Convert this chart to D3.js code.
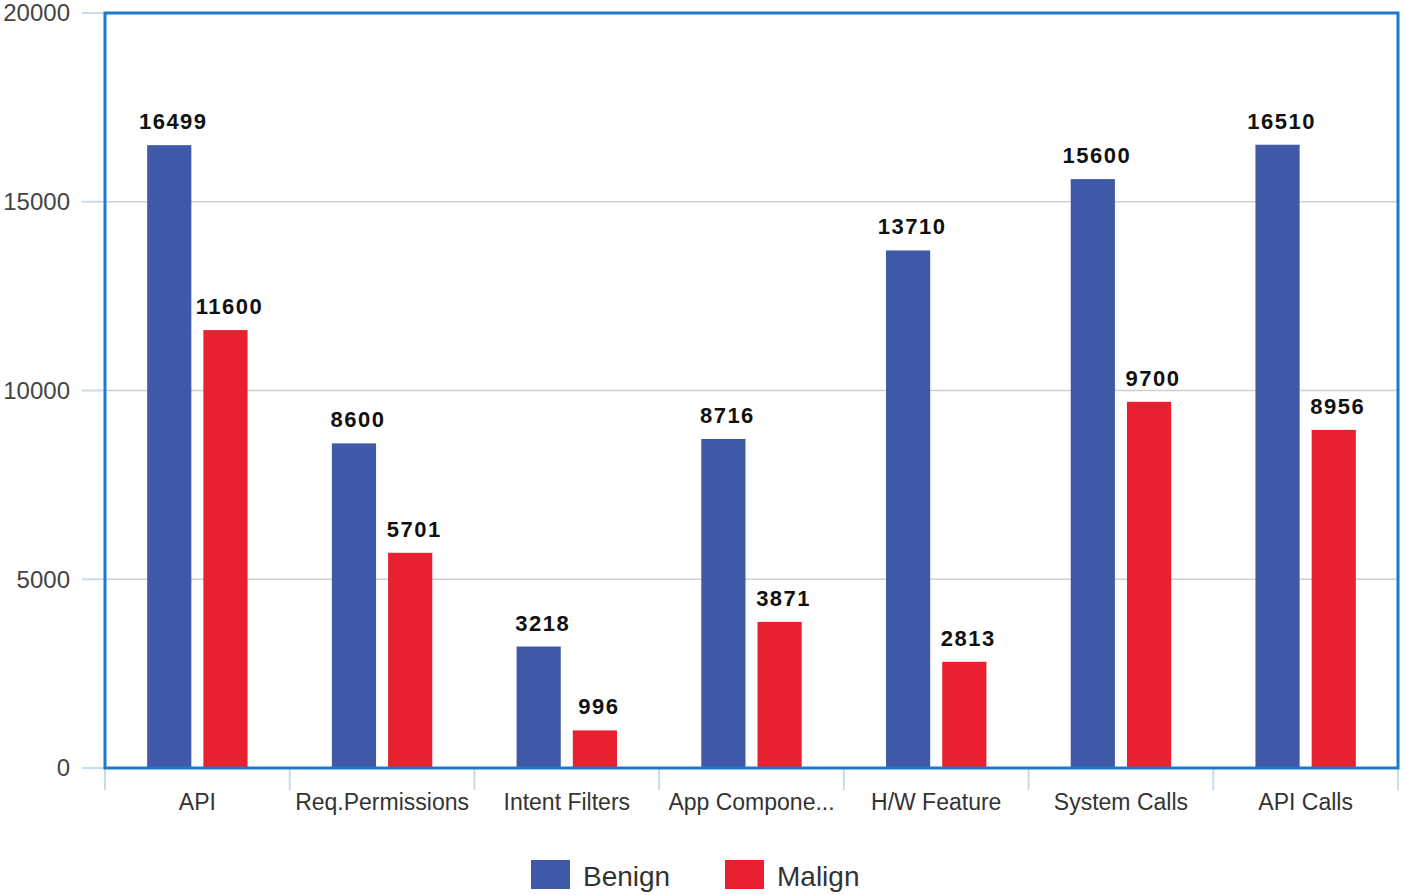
<!DOCTYPE html>
<html>
<head>
<meta charset="utf-8">
<script src="https://cdn.jsdelivr.net/npm/d3@7"></script>
<style>
  body { margin: 0; background: #fff; }
  svg { display: block; font-family: "Liberation Sans", Arial, sans-serif; }
</style>
</head>
<body>
<svg width="1405" height="895"></svg>
<script>
var categories = ["API", "Req.Permissions", "Intent Filters", "App Compone...", "H/W Feature", "System Calls", "API Calls"];
var benign = [16499, 8600, 3218, 8716, 13710, 15600, 16510];
var malign = [11600, 5701, 996, 3871, 2813, 9700, 8956];
var series = ["Benign", "Malign"];
var colors = ["#3f59a8", "#e8202f"];
var yTicks = [0, 5000, 10000, 15000, 20000];

(function(){
  var svg = d3.select("svg");
  var left = 105, right = 1398, plotTop = 13, bottom = 768;

  var x = d3.scaleBand().domain(categories).range([left, right]);
  var y = d3.scaleLinear().domain([0, 20000]).range([bottom, plotTop]);
  var inner = d3.scaleBand().domain(series).range([0, x.bandwidth()]).paddingInner(0.214).paddingOuter(0.75);

  // gridlines + small ticks on the left
  var grid = svg.append("g");
  grid.selectAll("line.gl")
    .data(yTicks)
    .enter().append("line")
    .attr("class", "gl")
    .attr("x1", left).attr("x2", right)
    .attr("y1", function(d) { return y(d); })
    .attr("y2", function(d) { return y(d); })
    .attr("stroke", "#cfcfcf")
    .attr("stroke-width", 1.5);
  grid.selectAll("line.tk")
    .data(yTicks)
    .enter().append("line")
    .attr("class", "tk")
    .attr("x1", 82).attr("x2", left)
    .attr("y1", function(d) { return y(d); })
    .attr("y2", function(d) { return y(d); })
    .attr("stroke", "#c9dbea")
    .attr("stroke-width", 2);

  // y labels
  svg.append("g").selectAll("text")
    .data(yTicks)
    .enter().append("text")
    .attr("x", 70)
    .attr("y", function(d) { return y(d); })
    .attr("dy", "0.35em")
    .attr("text-anchor", "end")
    .attr("font-size", 24)
    .attr("fill", "#444")
    .text(function(d) { return d; });

  // x boundary ticks
  var bounds = categories.map(function(c) { return x(c); }).concat([right]);
  svg.append("g").selectAll("line")
    .data(bounds)
    .enter().append("line")
    .attr("x1", function(d) { return d; })
    .attr("x2", function(d) { return d; })
    .attr("y1", bottom).attr("y2", 790)
    .attr("stroke", "#c9dbea")
    .attr("stroke-width", 2);

  // bars
  var groups = svg.append("g").selectAll("g")
    .data(categories)
    .enter().append("g")
    .attr("transform", function(c) { return "translate(" + x(c) + ",0)"; });

  var rows = function(c, i) {
    return [{s: "Benign", v: benign[i], c: colors[0]}, {s: "Malign", v: malign[i], c: colors[1]}];
  };

  groups.selectAll("rect")
    .data(rows)
    .enter().append("rect")
    .attr("x", function(d) { return inner(d.s); })
    .attr("width", inner.bandwidth())
    .attr("y", function(d) { return y(d.v); })
    .attr("height", function(d) { return bottom - y(d.v); })
    .attr("fill", function(d) { return d.c; });

  groups.selectAll("text")
    .data(rows)
    .enter().append("text")
    .attr("x", function(d) { return inner(d.s) + inner.bandwidth() / 2 + 4; })
    .attr("y", function(d) { return y(d.v) - 16; })
    .attr("text-anchor", "middle")
    .attr("font-size", 22)
    .attr("font-weight", "bold")
    .attr("letter-spacing", 1.5)
    .attr("fill", "#111")
    .text(function(d) { return d.v; });

  // category labels
  svg.append("g").selectAll("text")
    .data(categories)
    .enter().append("text")
    .attr("x", function(c) { return x(c) + x.bandwidth() / 2; })
    .attr("y", 802)
    .attr("dy", "0.35em")
    .attr("text-anchor", "middle")
    .attr("font-size", 23)
    .attr("fill", "#333")
    .text(function(c) { return c; });

  // plot frame
  svg.append("rect")
    .attr("x", left).attr("y", plotTop)
    .attr("width", right - left).attr("height", bottom - plotTop)
    .attr("fill", "none")
    .attr("stroke", "#1f78c8")
    .attr("stroke-width", 3);

  // legend
  var legend = svg.append("g");
  var legX = [531, 725];
  series.forEach(function(s, i) {
    legend.append("rect")
      .attr("x", legX[i]).attr("y", 860)
      .attr("width", 39).attr("height", 29)
      .attr("fill", colors[i]);
    legend.append("text")
      .attr("x", legX[i] + 52).attr("y", 876)
      .attr("dy", "0.35em")
      .attr("font-size", 28)
      .attr("fill", "#333")
      .text(s);
  });
})();
</script>
</body>
</html>
